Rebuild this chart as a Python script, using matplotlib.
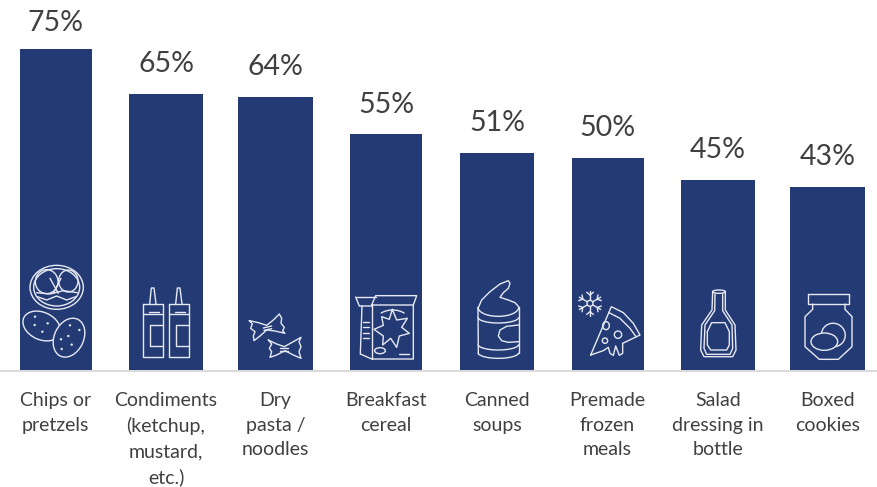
import numpy as np
import matplotlib
matplotlib.use("Agg")
import matplotlib.pyplot as plt
from matplotlib.patches import Ellipse, Circle

categories = ["Chips or\npretzels", "Condiments\n(ketchup,\nmustard,\netc.)", "Dry\npasta /\nnoodles",
              "Breakfast\ncereal", "Canned\nsoups", "Premade\nfrozen\nmeals", "Salad\ndressing in\nbottle", "Boxed\ncookies"]
values = [75.3, 64.9, 64.2, 55.3, 51.0, 49.8, 44.7, 43.0]
NAVY = "#233a75"
TXT = "#404040"
W, H = 877, 487
BASE = 369.5
SCALE = 4.25
centers = [55.5, 166, 275.5, 386, 497, 607.5, 718, 827.5]
widths = [72, 74, 75, 72, 74, 72, 74, 75]

fig = plt.figure(figsize=(W/100, H/100), dpi=100)
ax = fig.add_axes([0, 0, 1, 1])
ax.set_xlim(0, W)
ax.set_ylim(-(H-BASE)/SCALE, BASE/SCALE)
ax.axis("off")
ax.bar(centers, values, width=widths, color=NAVY, zorder=2)
ax.plot([0, W], [-0.3, -0.3], color="#d9d9d9", lw=1.4, zorder=1)
for c, v, cat in zip(centers, values, categories):
    ax.text(c, min(v + 3.9, 78.5), f"{v:.0f}%", ha="center", va="bottom", fontsize=20.5, color=TXT, family="Lato")
    ax.text(c, -5.4, cat, ha="center", va="top", fontsize=14, color=TXT, family="Lato", linespacing=1.53)

ov = fig.add_axes([0, 0, 1, 1], facecolor="none")
ov.set_xlim(0, W); ov.set_ylim(H, 0); ov.axis("off")
IC = "#e6e9f1"; LW = 1.0

def L(off, *pts, close=False, lw=LW):
    a = np.array(pts, float)
    if close:
        a = np.vstack([a, a[0]])
    ov.plot(off + a[:, 0]/3, 250 + a[:, 1]/3, color=IC, lw=lw, solid_joinstyle="round", solid_capstyle="round")

def E(off, x, y, w, h, ang=0, fc="none", z=3):
    ov.add_patch(Ellipse((off + x/3, 250 + y/3), w/3, h/3, angle=ang, fc=fc, ec=IC, lw=LW, zorder=z))

def curve(off, x, y, rx, ry, a0, a1, rot=0, n=40):
    t = np.radians(np.linspace(a0, a1, n))
    px, py = rx*np.cos(t), ry*np.sin(t)
    r = np.radians(rot)
    L(off, *np.c_[x + px*np.cos(r) - py*np.sin(r), y + px*np.sin(r) + py*np.cos(r)])

# pretzel and potatoes
E(0, 170, 112, 160, 132); E(0, 170, 112, 138, 112)
E(0, 140, 95, 68, 72); E(0, 205, 93, 58, 66)
L(0, (110, 128), (150, 132), (190, 122), (232, 128))
L(0, (112, 140), (140, 150), (170, 138), (200, 150), (228, 140))
L(0, (150, 85), (175, 130)); L(0, (183, 85), (160, 130))
E(0, 125, 228, 118, 82, 25); E(0, 207, 263, 88, 122, 25, fc=NAVY, z=4)
for p in [(105, 200), (104, 225), (127, 245), (143, 220), (210, 226), (238, 240), (205, 258), (183, 268), (215, 284), (185, 297)]:
    ov.add_patch(Circle((p[0]/3, 250 + p[1]/3), 0.5, color=IC, zorder=5))

# ketchup bottles
for dx in (0, 78):
    L(0, (429+dx, 162), (490+dx, 162), (490+dx, 322), (429+dx, 322), close=True)
    L(0, (429+dx, 193), (490+dx, 193)); L(0, (447+dx, 185), (478+dx, 185))
    L(0, (449+dx, 162), (454+dx, 114), (462+dx, 114), (468+dx, 162))
    L(0, (490+dx, 226), (451+dx, 226), (451+dx, 287), (490+dx, 287))

# pasta bows
L(0, (748, 212), (775, 218), (800, 226), (820, 210), (838, 192), (845, 205), (843, 220), (853, 232), (848, 243), (855, 250),
  (825, 243), (800, 240), (780, 258), (762, 272), (760, 258), (765, 245), (752, 235), (757, 222), close=True)
L(0, (790, 234), (815, 228)); L(0, (792, 241), (815, 236))
L(0, (805, 270), (830, 282), (853, 290), (880, 275), (903, 262), (897, 275), (903, 290), (897, 305), (903, 325),
  (880, 315), (855, 302), (830, 315), (810, 322), (815, 305), (808, 295), (815, 282), close=True)
L(0, (840, 294), (865, 294)); L(0, (840, 302), (865, 302))

# cereal box
L(0, (1115, 165), (1240, 165), (1250, 137), (1127, 137), (1115, 165))
L(0, (1067, 141), (1127, 141)); L(0, (1067, 141), (1078, 168), (1115, 168))
L(0, (1086, 168), (1081, 312), (1115, 327), (1240, 327), (1240, 165))
L(0, (1115, 165), (1115, 327))
for yy in (215, 232, 248, 265):
    L(0, (1088, yy), (1108, yy))
star = [(1177, 178), (1190, 210), (1222, 205), (1205, 232), (1228, 250), (1198, 258), (1190, 292), (1172, 265), (1148, 285), (1150, 258), (1122, 238), (1150, 226), (1145, 200), (1168, 208)]
L(0, *star, close=True)
curve(0, 1178, 230, 60, 50, 235, 305)
E(0, 1140, 302, 32, 18)
L(0, (1198, 312), (1228, 312))

# can
L(440, (114, 175), (125, 150), (150, 125), (180, 102), (205, 92), (210, 100), (205, 115), (190, 128), (180, 142), (205, 150), (225, 158), (236, 170))
curve(440, 175, 172, 61, 27, 0, 180)
L(440, (114, 175), (115, 310)); L(440, (236, 170), (236, 310))
curve(440, 175, 202, 61, 17, 5, 175)
curve(440, 175, 283, 61, 17, 5, 175)
curve(440, 175, 308, 61, 17, 5, 175)
L(440, (236, 225), (200, 229), (180, 240), (175, 258), (185, 272), (205, 277), (236, 275))

# pizza + snowflake
ov.add_patch(Circle((440 + 450/3, 250 + 160/3), 3.0, fill=False, ec=IC, lw=LW))
for a in (30, 90, 150, 210, 270, 330):
    c, s = np.cos(np.radians(a)), np.sin(np.radians(a))
    L(440, (450 + 9*c, 160 + 9*s), (450 + 37*c, 160 + 37*s))
    for d in (50, -50):
        c2, s2 = np.cos(np.radians(a+d)), np.sin(np.radians(a+d))
        L(440, (450 + 25*c, 160 + 25*s), (450 + 25*c + 13*c2, 160 + 25*s + 13*s2))
L(440, (452, 315), (514, 170), (550, 188), (580, 220), (600, 255), (548, 280), (548, 310), (538, 316), (527, 288), (520, 316), (510, 310), (505, 292), (490, 302), close=True)
L(440, (507, 188), (540, 205), (570, 235), (588, 260))
E(440, 498, 227, 20, 24); E(440, 534, 254, 22, 22); E(440, 495, 272, 16, 16)

# dressing bottle
L(440, (818, 125), (816, 180), (785, 225), (782, 300), (792, 320), (878, 320), (888, 300), (885, 225), (856, 180), (856, 125))
E(440, 837, 125, 38, 10)
L(440, (825, 132), (824, 182), (795, 225), (792, 295), (800, 313), (870, 313), (878, 295), (876, 225), (848, 182), (848, 132))
L(440, (802, 245), (815, 218), (855, 218), (868, 245), (868, 285), (860, 300), (812, 300), (802, 285), close=True)

# jar
L(440, (1105, 132), (1228, 132), (1228, 162), (1105, 162), close=True)
L(440, (1118, 162), (1118, 178), (1095, 200), (1095, 290), (1138, 328), (1195, 328), (1236, 290), (1236, 200), (1215, 178), (1215, 162))
E(440, 1180, 255, 72, 70, 30)
E(440, 1153, 275, 80, 52, fc=NAVY, z=4)

fig.savefig("out.png", dpi=100)
